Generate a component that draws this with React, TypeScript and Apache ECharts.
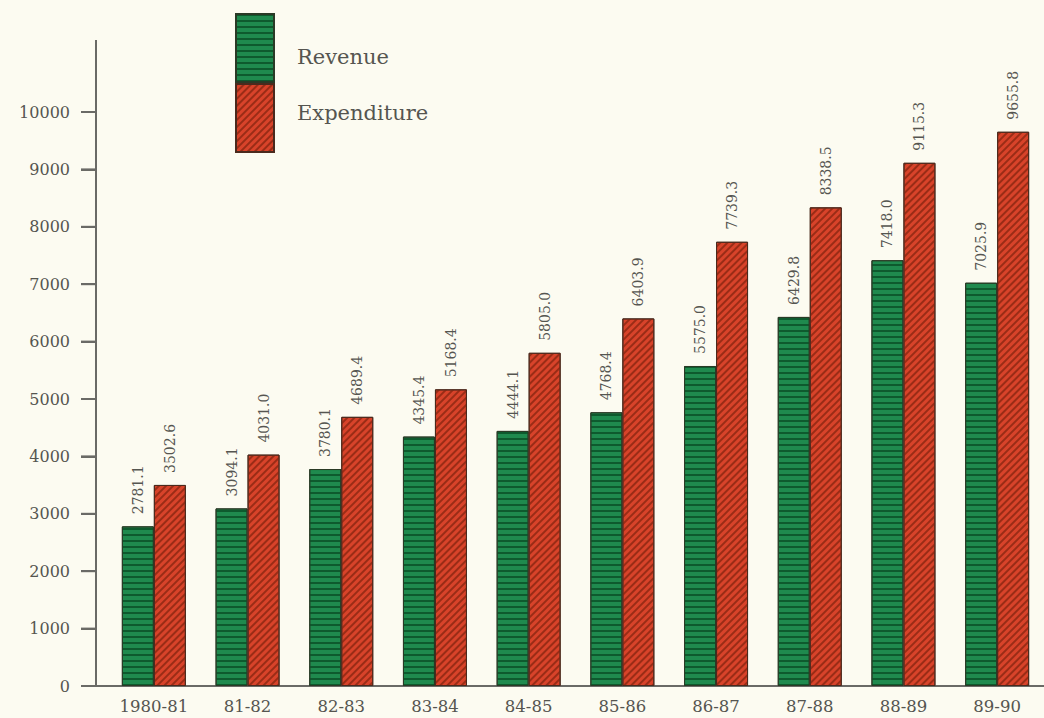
import React, { useEffect, useRef } from "react";
import * as echarts from "echarts";

const categories = ["1980-81", "81-82", "82-83", "83-84", "84-85", "85-86", "86-87", "87-88", "88-89", "89-90"];
const revenue = [2781.1, 3094.1, 3780.1, 4345.4, 4444.1, 4768.4, 5575.0, 6429.8, 7418.0, 7025.9];
const expenditure = [3502.6, 4031.0, 4689.4, 5168.4, 5805.0, 6403.9, 7739.3, 8338.5, 9115.3, 9655.8];

const FONT = "'DejaVu Serif', 'Liberation Serif', serif";
const TEXT = "#555550";
const AXIS = "#6a6a66";

const W = 1044;
const H = 718;
const GRID_LEFT = 107;
const AXIS_X = 96;
const GRID_BOTTOM = 32;
const GRID_TOP = 112;
const AXIS_TOP = 40;
const TICK_LEN = 15;
const Y_MAX = 10000;

export default function App() {
  const ref = useRef<HTMLDivElement>(null);
  useEffect(() => {
    if (!ref.current) return;
    const chart = echarts.init(ref.current, undefined, { renderer: "svg" });
    const label = {
      show: true,
      position: "top",
      rotate: 90,
      align: "left",
      verticalAlign: "middle",
      distance: 12,
      fontFamily: FONT,
      fontSize: 14,
      color: TEXT,
      formatter: (p: any) => Number(p.value).toFixed(1),
    };
    chart.setOption({
      animation: false,
      backgroundColor: "#fcfbf1",
      legend: {
        orient: "vertical",
        left: 235,
        top: 13,
        padding: 0,
        itemWidth: 38,
        itemHeight: 68,
        itemGap: 0,
        icon: "rect",
        formatter: (name: string) => (name === "Revenue" ? "{r|" + name + "}" : "{e|" + name + "}"),
        textStyle: {
          fontFamily: FONT,
          fontSize: 21,
          color: TEXT,
          padding: [0, 0, 0, 18],
          rich: {
            r: { fontFamily: FONT, fontSize: 21, color: TEXT, padding: [18, 0, 0, 0] },
            e: { fontFamily: FONT, fontSize: 21, color: TEXT, padding: [0, 0, 10, 0] },
          },
        },
        data: ["Revenue", "Expenditure"],
      },
      grid: { left: GRID_LEFT, right: -5, top: GRID_TOP, bottom: GRID_BOTTOM, containLabel: false },
      xAxis: {
        type: "category",
        data: categories,
        boundaryGap: true,
        axisLine: { show: true, lineStyle: { color: AXIS, width: 2 } },
        axisTick: { show: false },
        axisLabel: { fontFamily: FONT, fontSize: 16.5, color: TEXT, margin: 12 },
      },
      yAxis: {
        type: "value",
        min: 0,
        max: Y_MAX,
        interval: 1000,
        offset: GRID_LEFT - AXIS_X,
        splitLine: { show: false },
        axisLine: { show: true, lineStyle: { color: AXIS, width: 2 } },
        axisTick: { show: true, length: TICK_LEN, lineStyle: { color: AXIS, width: 2 } },
        axisLabel: {
          fontFamily: FONT,
          fontSize: 16,
          color: TEXT,
          margin: 0,
          formatter: (v: number) => "{n|" + v + "}{t|}",
          rich: {
            n: { fontFamily: FONT, fontSize: 16, color: TEXT, padding: [0, 11, 0, 0] },
            t: { width: TICK_LEN, height: 2, backgroundColor: AXIS },
          },
        },
      },
      graphic: {
        elements: [
          {
            type: "rect",
            shape: { x: AXIS_X - 1, y: H - GRID_BOTTOM - 1, width: GRID_LEFT - AXIS_X + 2, height: 2 },
            style: { fill: AXIS },
            silent: true,
          },
          {
            type: "rect",
            shape: { x: AXIS_X - 1, y: AXIS_TOP, width: 2, height: GRID_TOP - AXIS_TOP + 1 },
            style: { fill: AXIS },
            silent: true,
          },
        ],
      },
      series: [
        {
          name: "Revenue",
          type: "bar",
          data: revenue,
          barWidth: 32,
          barGap: "0%",
          itemStyle: {
            color: "#1f8a4e",
            borderColor: "#2a3a26",
            borderWidth: 1,
            decal: {
              symbol: "rect",
              symbolSize: 1,
              color: "#0e5a2e",
              dashArrayX: [10, 0],
              dashArrayY: [1.5, 4],
              rotation: 0,
            },
          },
          label,
        },
        {
          name: "Expenditure",
          type: "bar",
          data: expenditure,
          barWidth: 32,
          barGap: "0%",
          itemStyle: {
            color: "#d8432a",
            borderColor: "#4a2a1e",
            borderWidth: 1,
            decal: {
              symbol: "rect",
              symbolSize: 1,
              color: "#9a2c16",
              dashArrayX: [10, 0],
              dashArrayY: [1.2, 3],
              rotation: -Math.PI / 4,
            },
          },
          label,
        },
      ],
    });
    return () => chart.dispose();
  }, []);
  return <div ref={ref} style={{ position: "absolute", left: 0, top: 0, width: W, height: H }} />;
}
